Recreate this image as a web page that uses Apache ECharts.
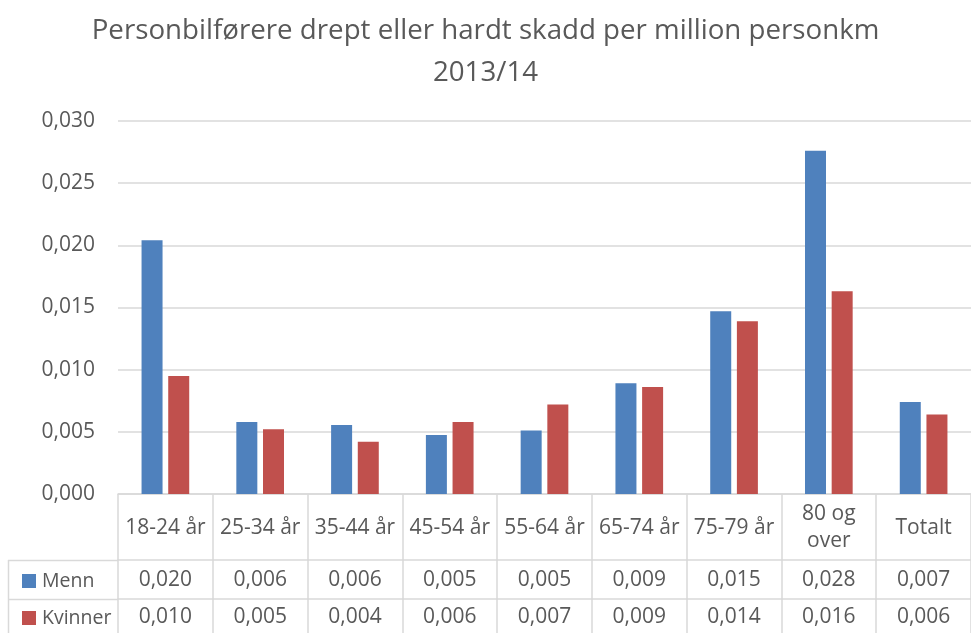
<!DOCTYPE html>
<html>
<head>
<meta charset="utf-8">
<script src="https://cdn.jsdelivr.net/npm/echarts@6/dist/echarts.min.js"></script>
<style>
  html, body { margin: 0; padding: 0; background: #fff; }
  #chart { width: 971px; height: 633px; }
</style>
</head>
<body>
<div id="chart"></div>
<script>
var categories = ['18-24 år', '25-34 år', '35-44 år', '45-54 år', '55-64 år', '65-74 år', '75-79 år', '80 og\nover', 'Totalt'];
var menn = [0.0204, 0.0058, 0.00555, 0.00475, 0.0051, 0.0089, 0.0147, 0.0276, 0.0074];
var kvinner = [0.0095, 0.0052, 0.0042, 0.0058, 0.0072, 0.0086, 0.0139, 0.0163, 0.0064];
var yTicks = [0, 0.005, 0.010, 0.015, 0.020, 0.025, 0.030];

var textColor = '#595959';
var lineColor = '#d9d9d9';
var fontFam = 'Open Sans';
var fontSz = 21;

function fmt(v) {
	return (Math.round(v * 1000 + 1e-9) / 1000).toFixed(3).replace('.', ',');
}

function legendItem(name, top) {
	return {
		orient: 'vertical',
		left: 17,
		top: top,
		itemWidth: 14,
		itemHeight: 14,
		icon: 'rect',
		selectedMode: false,
		textStyle: { fontFamily: fontFam, fontSize: 19.5, color: textColor, padding: [0, 0, 0, 1] },
		data: [name]
	};
}

var option = {
	animation: false,
	title: {
		text: 'Personbilførere drept eller hardt skadd per million personkm\n2013/14',
		left: 'center',
		top: 5,
		textStyle: {
			fontFamily: fontFam,
			fontSize: 27.7,
			fontWeight: 'normal',
			color: textColor,
			lineHeight: 42
		}
	},
	legend: [legendItem('Menn', 566), legendItem('Kvinner', 603)],
	grid: {
		left: 118,
		top: 121,
		width: 864,
		height: 373
	},
	xAxis: [{
		type: 'category',
		data: categories,
		axisLine: { lineStyle: { color: lineColor, width: 1.5 } },
		axisTick: { show: true, length: 140, lineStyle: { color: lineColor, width: 1.5 } },
		axisLabel: {
			fontFamily: fontFam, fontSize: fontSz, color: textColor,
			verticalAlign: 'middle', margin: 34, lineHeight: 27, interval: 0
		}
	}, {
		type: 'category',
		data: categories,
		position: 'bottom',
		offset: 66,
		axisLine: { lineStyle: { color: lineColor, width: 1.5 } },
		axisTick: { show: false },
		axisLabel: {
			fontFamily: fontFam, fontSize: fontSz, color: textColor,
			verticalAlign: 'middle', margin: 20, interval: 0,
			formatter: function (v, i) { return fmt(menn[i]); }
		}
	}, {
		type: 'category',
		data: categories,
		position: 'bottom',
		offset: 105,
		axisLine: { lineStyle: { color: lineColor, width: 1.5 } },
		axisTick: { show: false },
		axisLabel: {
			fontFamily: fontFam, fontSize: fontSz, color: textColor,
			verticalAlign: 'middle', margin: 18, interval: 0,
			formatter: function (v, i) { return fmt(kvinner[i]); }
		}
	}],
	yAxis: {
		type: 'value',
		min: yTicks[0],
		max: yTicks[yTicks.length - 1],
		interval: yTicks[1] - yTicks[0],
		axisLine: { show: false },
		axisTick: { show: false },
		splitLine: { lineStyle: { color: lineColor, width: 1.5 } },
		axisLabel: {
			fontFamily: fontFam, fontSize: fontSz, color: textColor, margin: 23,
			formatter: fmt
		}
	},
	graphic: [
		{ type: 'line', shape: { x1: 8, y1: 560.5, x2: 118, y2: 560.5 }, style: { stroke: lineColor, lineWidth: 1.5 } },
		{ type: 'line', shape: { x1: 8, y1: 599.5, x2: 118, y2: 599.5 }, style: { stroke: lineColor, lineWidth: 1.5 } },
		{ type: 'line', shape: { x1: 8.5, y1: 560, x2: 8.5, y2: 633 }, style: { stroke: lineColor, lineWidth: 1.5 } }
	],
	series: [{
		name: 'Menn',
		type: 'bar',
		data: menn,
		barWidth: 21,
		barGap: '27%',
		itemStyle: { color: '#4f81bd' }
	}, {
		name: 'Kvinner',
		type: 'bar',
		data: kvinner,
		barWidth: 21,
		itemStyle: { color: '#c0504d' }
	}]
};

var chartDom = document.getElementById('chart');
var barChart = echarts.init(chartDom);
barChart.setOption(option);
window.addEventListener('resize', function () {
	barChart.resize();
});
</script>
</body>
</html>
